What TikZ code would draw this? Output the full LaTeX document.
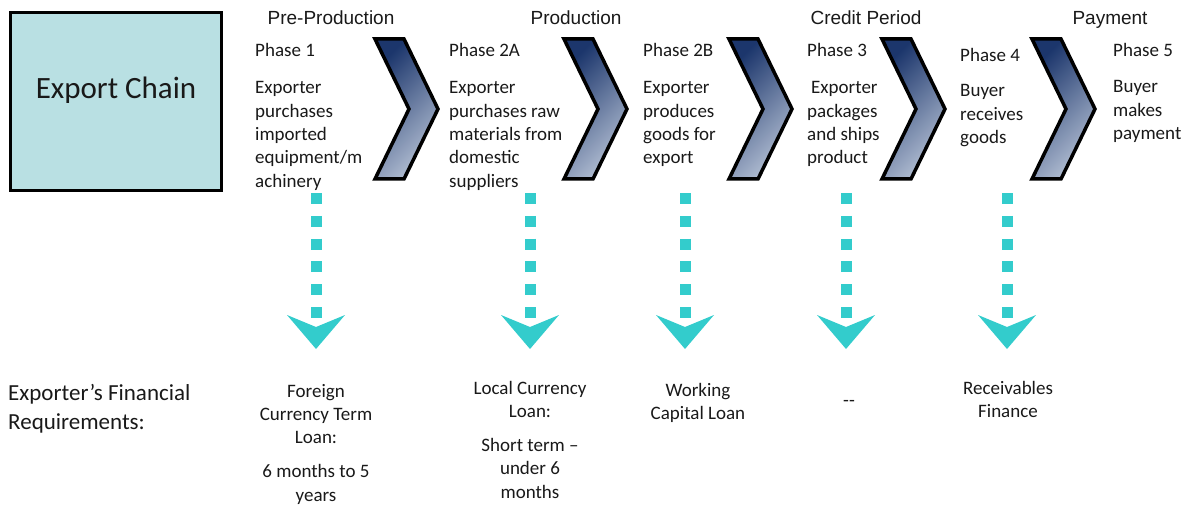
\documentclass[tikz,border=0pt]{standalone}
\usepackage{fontspec}
\setmainfont{Carlito}
\newfontfamily\hdrfont{Liberation Sans}
\definecolor{boxfill}{RGB}{185,224,227}
\definecolor{arrteal}{RGB}{51,204,204}
\definecolor{chevdark}{RGB}{28,54,108}
\definecolor{chevlight}{RGB}{180,192,212}
\definecolor{txt}{RGB}{25,25,25}
\begin{document}
\begin{tikzpicture}[x=1pt,y=-1pt,
  hdr/.style={font=\hdrfont\fontsize{19}{23}\selectfont, anchor=base, inner sep=0pt, text=txt},
  ptitle/.style={font=\fontsize{19}{23.3}\selectfont, anchor=base west, inner sep=0pt, text=txt},
  pbody/.style={font=\fontsize{19}{23.3}\selectfont, anchor=base west, inner sep=0pt, text=txt},
  req/.style={font=\fontsize{19}{23.3}\selectfont, anchor=base, inner sep=0pt, text=txt},
  chev/.style={draw=black, line width=3.5pt, line join=miter, top color=chevdark, bottom color=chevlight, shading angle=45},
  dots/.style={draw=arrteal, line width=11pt, dash pattern=on 11pt off 11.8pt},
  headfill/.style={fill=arrteal}
]
\useasboundingbox (0,0) rectangle (1190,505);

% Export chain box
\node[draw=black, line width=3pt, fill=boxfill, minimum width=211pt, minimum height=178pt, inner sep=0pt] (ec) at (116,101.5) {};
\node[font=\fontsize{31}{36}\selectfont, anchor=base, inner sep=0pt, text=txt] (ect) at (116,99) {Export Chain};

% headers
\node[hdr] (h1) at (331,25) {Pre-Production};
\node[hdr] (h2) at (576,25) {Production};
\node[hdr] (h3) at (866,25) {Credit Period};
\node[hdr] (h4) at (1110,25) {Payment};

% chevrons
\foreach \cx in {373,562,727,880,1030}{
  \draw[chev] (\cx+2,39) -- ++(29,0) -- ++(34,70) -- ++(-34,70) -- ++(-29,0) -- ++(34,-70) -- cycle;
}

% phase titles
\node[ptitle] (p1) at (255,57) {Phase 1};
\node[ptitle] (p2a) at (449,57) {Phase 2A};
\node[ptitle] (p2b) at (643,57) {Phase 2B};
\node[ptitle] (p3) at (807,57) {Phase 3};
\node[ptitle] (p4) at (960,62) {Phase 4};
\node[ptitle] (p5) at (1113,57) {Phase 5};

% phase bodies
\node[pbody] (b1) at (255,94) {\parbox[t]{120pt}{\raggedright Exporter\\purchases\\imported\\equipment/m\\achinery}};
\node[pbody] (b2a) at (449,94) {\parbox[t]{120pt}{\raggedright Exporter\\purchases raw\\materials from\\domestic\\suppliers}};
\node[pbody] (b2b) at (643,94) {\parbox[t]{90pt}{\raggedright Exporter\\produces\\goods for\\export}};
\node[pbody] (b3) at (807,94) {\parbox[t]{90pt}{\raggedright \hspace*{4pt}Exporter\\packages\\and ships\\product}};
\node[pbody] (b4) at (960,97) {\parbox[t]{80pt}{\raggedright Buyer\\receives\\goods}};
\node[pbody] (b5) at (1113,93) {\parbox[t]{80pt}{\raggedright Buyer\\makes\\payment}};

% dotted arrows
\foreach \i/\cx in {1/316,2/530,3/685,4/846,5/1007}{
  \coordinate (ds\i) at (\cx,193);
  \coordinate (de\i) at (\cx,318);
  \coordinate (tip\i) at (\cx,349);
  \draw[dots] (ds\i) -- (de\i);
  \fill[headfill] (tip\i) -- ++(-29,-34) -- ++(29,12) -- ++(29,-12) -- cycle;
}

% requirements
\node[font=\fontsize{23}{29}\selectfont, anchor=base west, inner sep=0pt, text=txt] (fr) at (8,400) {\parbox[t]{220pt}{\raggedright Exporter’s Financial\\Requirements:}};
\node[req] (r1) at (316,397) {\parbox[t]{150pt}{\centering Foreign\\Currency Term\\Loan:\\[11pt]6 months to 5\\years}};
\node[req] (r2) at (530,394) {\parbox[t]{150pt}{\centering Local Currency\\Loan:\\[11pt]Short term –\\under 6\\months}};
\node[req] (r3) at (698,396) {\parbox[t]{150pt}{\centering Working\\Capital Loan}};
\node[req] (r4) at (849,406) {-{}-};
\node[req] (r5) at (1008,394) {\parbox[t]{150pt}{\centering Receivables\\Finance}};
\end{tikzpicture}
\end{document}
